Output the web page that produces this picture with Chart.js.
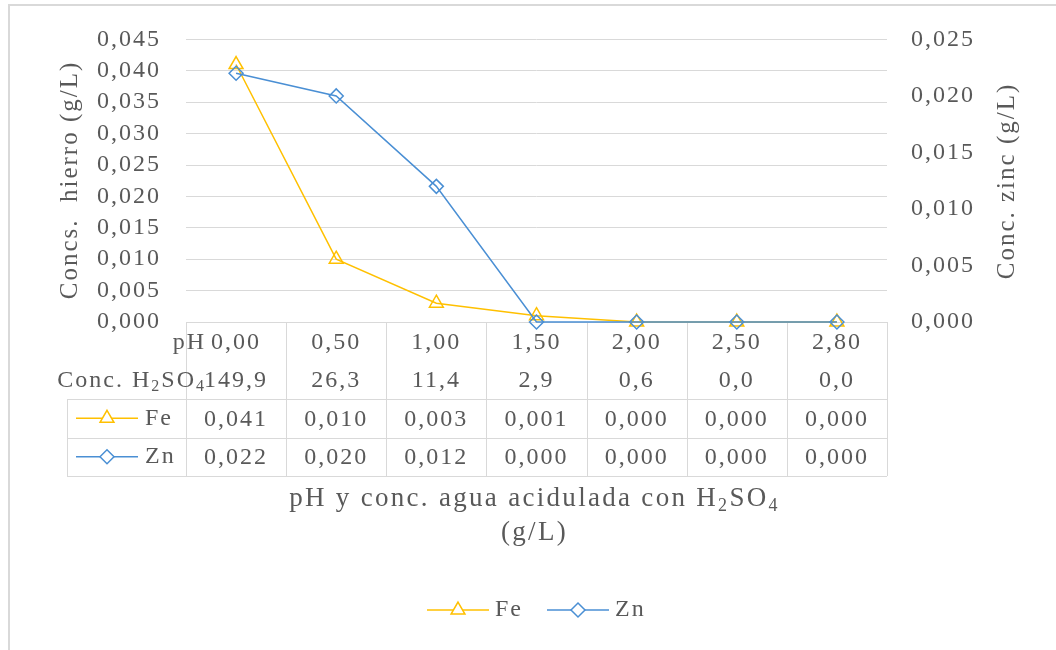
<!DOCTYPE html>
<html lang="es">
<head>
    <meta charset="UTF-8">
    <title>Concentración de hierro y zinc según pH</title>
    <script src="https://cdn.jsdelivr.net/npm/chart.js"></script>
    <style>
        body {
            margin: 0;
            padding: 0;
            background: #fff;
        }
        #wrap {
            position: relative;
            width: 1056px;
            height: 650px;
        }
    </style>
</head>
<body>
    <div id="wrap">
        <canvas id="grafico" width="1056" height="650"></canvas>
    </div>

    <script>
        // datos
        const phLabels = ['0,00', '0,50', '1,00', '1,50', '2,00', '2,50', '2,80'];
        const acidConc = ['149,9', '26,3', '11,4', '2,9', '0,6', '0,0', '0,0'];
        const feValues = [0.041, 0.010, 0.003, 0.001, 0.000, 0.000, 0.000];
        const znValues = [0.022, 0.020, 0.012, 0.000, 0.000, 0.000, 0.000];
        const feMax = 0.045;
        const znMax = 0.025;
        const tickStep = 0.005;

        const FE_COLOR = '#FFC000';
        const ZN_COLOR = '#4A8FD4';
        const TEXT = '#595959';
        const GRID = '#D9D9D9';
        const FONT = "'Liberation Serif', 'Times New Roman', serif";
        const FSIZE = 24;

        const fmt = v => v.toFixed(3).replace('.', ',');

        // texto con subíndices: partes [texto, esSub]
        function setFont(ctx, p, size) {
            ctx.font = (p[1] ? Math.round(size * 0.65) : size) + 'px ' + FONT;
        }
        function drawRich(ctx, parts, x, y, align, size) {
            size = size || FSIZE;
            let w = 0;
            parts.forEach(p => { setFont(ctx, p, size); w += ctx.measureText(p[0]).width; });
            let cx = align === 'center' ? x - w / 2 : (align === 'right' ? x - w : x);
            ctx.textAlign = 'left';
            ctx.textBaseline = 'middle';
            parts.forEach(p => {
                setFont(ctx, p, size);
                ctx.fillText(p[0], cx, p[1] ? y + size * 0.27 : y);
                cx += ctx.measureText(p[0]).width;
            });
        }

        function legendKey(ctx, color, style, x1, x2, y) {
            ctx.save();
            ctx.strokeStyle = color;
            ctx.lineWidth = 1.5;
            ctx.beginPath();
            ctx.moveTo(x1, y);
            ctx.lineTo(x2, y);
            ctx.stroke();
            ctx.fillStyle = '#fff';
            Chart.helpers.drawPoint(ctx, {
                pointStyle: style,
                radius: style === 'triangle' ? 8 : 7,
                rotation: 0,
                borderWidth: 1.5
            }, (x1 + x2) / 2, y);
            ctx.restore();
        }

        const tablaPlugin = {
            id: 'tabla',
            beforeDraw(chart) {
                const ctx = chart.ctx;
                ctx.letterSpacing = '2px';
                // marco del gráfico
                ctx.save();
                ctx.strokeStyle = GRID;
                ctx.lineWidth = 2;
                ctx.beginPath();
                ctx.moveTo(9, 650);
                ctx.lineTo(9, 5);
                ctx.lineTo(1056, 5);
                ctx.stroke();
                ctx.restore();
            },
            beforeDatasetsDraw(chart) {
                const ctx = chart.ctx;
                const area = chart.chartArea;
                const n = phLabels.length;
                const colW = (area.right - area.left) / n;
                const rowH = 38.5;
                const top = area.bottom;
                const keyLeft = 67;
                ctx.save();
                ctx.strokeStyle = GRID;
                ctx.lineWidth = 1;
                ctx.beginPath();
                for (let i = 0; i <= n; i++) {
                    const x = Math.round(area.left + i * colW) + 0.5;
                    ctx.moveTo(x, top);
                    ctx.lineTo(x, top + rowH * 4);
                }
                [2, 3, 4].forEach(k => {
                    const y = Math.round(top + rowH * k) + 0.5;
                    ctx.moveTo(keyLeft, y);
                    ctx.lineTo(area.right, y);
                });
                ctx.moveTo(keyLeft + 0.5, top + rowH * 2);
                ctx.lineTo(keyLeft + 0.5, top + rowH * 4);
                ctx.stroke();
                ctx.restore();
            },
            afterDraw(chart) {
                const ctx = chart.ctx;
                const area = chart.chartArea;
                const xs = chart.scales.x;
                const rowH = 38.5;
                const top = area.bottom;
                ctx.save();
                ctx.letterSpacing = '2px';
                ctx.fillStyle = TEXT;
                ctx.textBaseline = 'middle';

                const rows = [phLabels, acidConc, feValues.map(fmt), znValues.map(fmt)];
                rows.forEach((vals, r) => {
                    ctx.font = FSIZE + 'px ' + FONT;
                    ctx.textAlign = 'center';
                    vals.forEach((v, i) => {
                        ctx.fillText(v, xs.getPixelForValue(i), top + rowH * r + rowH / 2 + 1);
                    });
                });

                // rótulos de filas
                const labelRight = area.left + 20;
                drawRich(ctx, [['pH', false]], labelRight, top + rowH / 2 + 1, 'right');
                drawRich(ctx, [['Conc. H', false], ['2', true], ['SO', false], ['4', true]],
                    labelRight, top + rowH * 1.5 + 1, 'right');

                legendKey(ctx, FE_COLOR, 'triangle', 76, 138, top + rowH * 2.5);
                legendKey(ctx, ZN_COLOR, 'rectRot', 76, 138, top + rowH * 3.5);
                ctx.fillStyle = TEXT;
                drawRich(ctx, [['Fe', false]], 145, top + rowH * 2.5, 'left');
                drawRich(ctx, [['Zn', false]], 145, top + rowH * 3.5, 'left');

                // título del eje X
                const midX = (area.left + area.right) / 2 - 2;
                ctx.letterSpacing = '2.3px';
                drawRich(ctx, [['pH y conc. agua acidulada con H', false], ['2', true], ['SO', false], ['4', true]],
                    midX, 499, 'center', 27);
                drawRich(ctx, [['(g/L)', false]], midX, 533, 'center', 27);

                // títulos de ejes verticales
                ctx.letterSpacing = '2px';
                ctx.save();
                ctx.translate(70, 180);
                ctx.rotate(-Math.PI / 2);
                drawRich(ctx, [['Concs.  hierro (g/L)', false]], 0, 0, 'center', 25);
                ctx.restore();
                ctx.save();
                ctx.translate(1007, 181);
                ctx.rotate(-Math.PI / 2);
                drawRich(ctx, [['Conc. zinc (g/L)', false]], 0, 0, 'center', 25);
                ctx.restore();

                // leyenda inferior
                legendKey(ctx, FE_COLOR, 'triangle', 427, 489, 610);
                legendKey(ctx, ZN_COLOR, 'rectRot', 547, 609, 610);
                ctx.fillStyle = TEXT;
                drawRich(ctx, [['Fe', false]], 495, 610, 'left');
                drawRich(ctx, [['Zn', false]], 615, 610, 'left');
                ctx.restore();
            }
        };

        const ctx = document.getElementById('grafico').getContext('2d');
        new Chart(ctx, {
            type: 'line',
            data: {
                labels: phLabels,
                datasets: [
                    {
                        label: 'Fe',
                        data: feValues,
                        yAxisID: 'y',
                        borderColor: FE_COLOR,
                        borderWidth: 1.5,
                        pointStyle: 'triangle',
                        pointRadius: 8,
                        pointBorderWidth: 1.5,
                        pointBorderColor: FE_COLOR,
                        pointBackgroundColor: 'rgba(0,0,0,0)',
                        tension: 0,
                        order: 1
                    },
                    {
                        label: 'Zn',
                        data: znValues,
                        yAxisID: 'y1',
                        borderColor: ZN_COLOR,
                        borderWidth: 1.5,
                        pointStyle: 'rectRot',
                        pointRadius: 7,
                        pointBorderWidth: 1.5,
                        pointBorderColor: ZN_COLOR,
                        pointBackgroundColor: 'rgba(0,0,0,0)',
                        tension: 0,
                        order: 0
                    }
                ]
            },
            options: {
                responsive: false,
                animation: false,
                clip: false,
                layout: {
                    padding: { top: 38, bottom: 328, left: 0, right: 0 }
                },
                plugins: {
                    legend: { display: false },
                    tooltip: { enabled: false }
                },
                scales: {
                    x: {
                        type: 'category',
                        display: false,
                        offset: true
                    },
                    y: {
                        position: 'left',
                        min: 0,
                        max: feMax,
                        ticks: {
                            stepSize: tickStep,
                            autoSkip: false,
                            padding: 25,
                            color: TEXT,
                            font: { family: FONT, size: FSIZE },
                            callback: v => fmt(v)
                        },
                        grid: { color: GRID, lineWidth: 1, drawTicks: false },
                        border: { display: false },
                        afterFit(scale) { scale.width = 186; }
                    },
                    y1: {
                        position: 'right',
                        min: 0,
                        max: znMax,
                        ticks: {
                            stepSize: tickStep,
                            autoSkip: false,
                            padding: 24,
                            color: TEXT,
                            font: { family: FONT, size: FSIZE },
                            callback: v => fmt(v)
                        },
                        grid: { display: false, drawTicks: false },
                        border: { display: false },
                        afterFit(scale) { scale.width = 1056 - 887; }
                    }
                }
            },
            plugins: [tablaPlugin]
        });
    </script>
</body>
</html>
